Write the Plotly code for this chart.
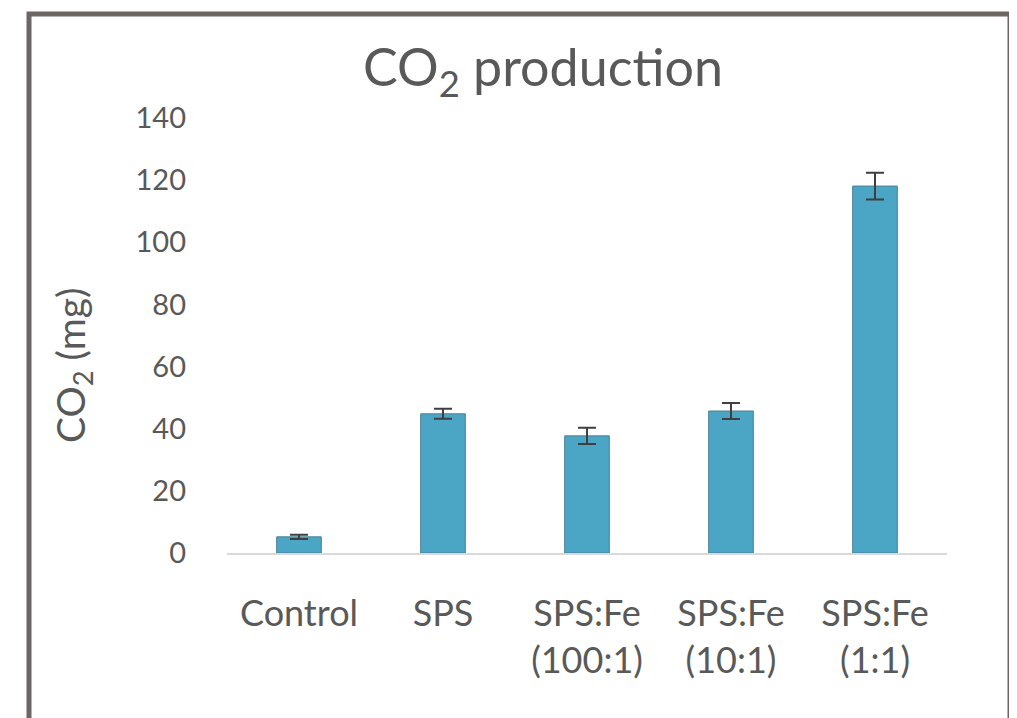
import plotly.graph_objects as go

categories = ["Control", "SPS", "SPS:Fe<br>(100:1)", "SPS:Fe<br>(10:1)", "SPS:Fe<br>(1:1)"]
co2_mg = [5.2, 44.8, 37.7, 45.7, 118.1]
co2_err = [0.7, 1.6, 2.6, 2.6, 4.3]
y_ticks = [0, 20, 40, 60, 80, 100, 120, 140]

W, H = 1017, 718
OFF = 8  # page body margin offset
# target plot area in screenshot pixels: x 227..947, y 118..553
L = 227 - OFF
R = W - (947 - OFF)
T = 118 - OFF
B = H - (553 - OFF)
pw, ph = W - L - R, H - T - B

def px(x):
    return (x - OFF - L) / pw

def py(y):
    return (H - B - (y - OFF)) / ph

FONT = "Lato"
TXT = "#595959"

fig = go.Figure()
fig.add_trace(go.Bar(
    x=categories, y=co2_mg,
    marker=dict(color="#4ba5c4", line=dict(color="#4a8197", width=1)),
    error_y=dict(type="data", array=co2_err, visible=True,
                 color="#3f3f3f", thickness=2, width=9),
))

fig.update_layout(
    width=W, height=H,
    margin=dict(l=L, r=R, t=T, b=B, pad=0),
    paper_bgcolor="white", plot_bgcolor="white",
    showlegend=False,
    bargap=0.69,
    font=dict(family=FONT, color=TXT),
    xaxis=dict(showline=True, linecolor="#d9d9d9", linewidth=2,
               showgrid=False, ticks="", tickfont=dict(size=36, color=TXT),
               ticklabelstandoff=28),
    yaxis=dict(range=[0, 140], tickvals=y_ticks, showgrid=False,
               zeroline=False, showline=False, ticks="",
               tickfont=dict(size=29, color=TXT), ticklabelstandoff=40),
    annotations=[
        dict(text="CO<sub>2</sub> production", x=px(543), y=py(70),
             xref="paper", yref="paper", xanchor="center", yanchor="middle",
             showarrow=False, font=dict(size=52, color=TXT, family=FONT)),
        dict(text="CO<sub>2</sub> (mg)", x=px(73), y=py(366),
             xref="paper", yref="paper", xanchor="center", yanchor="middle",
             textangle=-90, showarrow=False,
             font=dict(size=39, color=TXT, family=FONT)),
    ],
    shapes=[
        dict(type="rect", xref="paper", yref="paper",
             x0=px(29), x1=px(1010), y0=py(740), y1=py(14),
             line=dict(color="#6d6563", width=5), fillcolor="rgba(0,0,0,0)",
             layer="below"),
    ],
)

fig.write_html("out.html")
